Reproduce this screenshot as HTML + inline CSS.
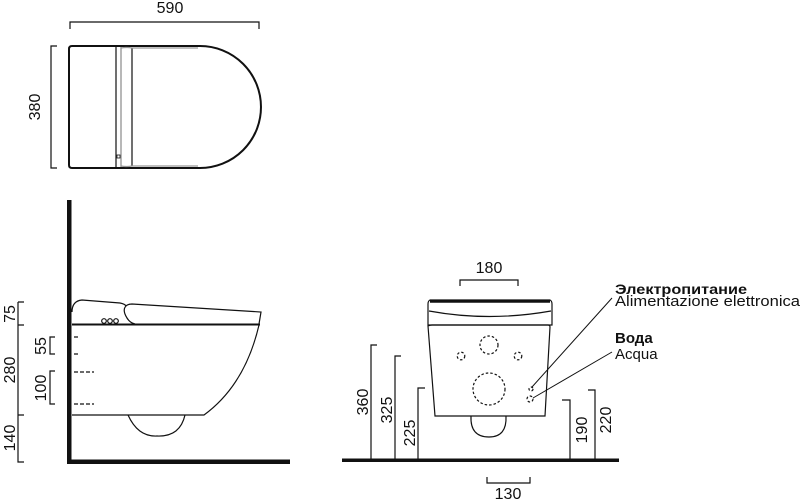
<!DOCTYPE html>
<html><head><meta charset="utf-8"><style>
html,body{margin:0;padding:0;background:#fff;}
svg{display:block;}
text{font-family:"Liberation Sans",sans-serif;fill:#111;}
</style></head><body>
<svg width="800" height="503" viewBox="0 0 800 503" xmlns="http://www.w3.org/2000/svg">
<g fill="none" stroke="#111" stroke-width="1.2">
<!-- TOP VIEW -->
<path d="M70 29 V22 H259 V29"/>
<path d="M57 46 H51 V168 H57"/>
<path d="M72 46 H200 A61 61 0 0 1 200 168 H72 Q69 168 69 165 V49 Q69 46 72 46 Z" stroke-width="2"/>
<line x1="116" y1="46" x2="116" y2="168"/>
<line x1="121" y1="47" x2="121" y2="167" stroke="#888"/>
<line x1="132" y1="48" x2="132" y2="166"/>
<path d="M121 48 Q126 47 132 48 M121 166 Q126 167 132 166 M132 48 H198 M132 166 H198" stroke="#999"/>
<rect x="117" y="155" width="3" height="3" stroke-width="0.8"/>

<!-- SIDE VIEW -->
<path d="M18 302 H24 M18 302 V462 H24 M18 325 H24 M18 415 H24"/>
<path d="M55 337 H50 V354 H55 M55 371 H50 V404 H55"/>
<path d="M74 337 H80 M74 354 H80 M74 372 H94 M74 404 H94" stroke-dasharray="4 2"/>
<path d="M72 312 Q72 301 82 300 L120 303 Q125 304 126 306 Q122 310 127 318 Q130 323 135 324 M126 306 Q128 304 132 304 L261 312 L259 324"/>
<line x1="72" y1="324.5" x2="260" y2="324.5" stroke-width="2"/>
<path d="M259 325 Q245 385 204 415 H72"/>
<path d="M128 415 Q138 437 157 436 Q180 437 185 415"/>
<circle cx="104" cy="321" r="2.3"/><circle cx="110" cy="321" r="2.3"/><circle cx="116" cy="321" r="2.3"/>

<!-- FRONT VIEW -->
<path d="M460 286 V280 H518 V286"/>
<path d="M487 477 V483 H530 V477"/>
<path d="M377 345 H371 V460 M401 356 H395 V460 M425 388 H418 V460 M562 400 H570 V460 M588 390 H595 V460"/>
<path d="M430 300 H550 Q552 301 552 304 V325 H428 V304 Q428 301 430 300 Z"/>
<line x1="430" y1="301.5" x2="550" y2="301.5" stroke-width="2.5"/>
<path d="M429 311 Q489 322 551 311"/>
<path d="M428 326 Q430 325 432 325 H548 Q550 325 550 327 L545 416 H435 Z"/>
<path d="M471 416 Q470 437 489 437 Q507 437 506 416"/>
<g stroke-dasharray="2.5 2">
<circle cx="489" cy="345" r="9"/>
<circle cx="461" cy="356" r="3.8"/>
<circle cx="518" cy="356" r="3.8"/>
<circle cx="489" cy="389" r="16"/>
<circle cx="531" cy="389" r="2"/>
<circle cx="530" cy="399" r="3"/>
</g>
<line x1="532" y1="387" x2="612" y2="298" stroke-width="1"/>
<line x1="533" y1="398" x2="612" y2="352" stroke-width="1"/>
</g>
<rect x="67" y="200" width="4.5" height="264" fill="#111"/>
<rect x="67" y="459.5" width="223" height="4.5" fill="#111"/>
<rect x="342" y="458.5" width="277" height="3.5" fill="#111"/>

<g font-size="16">
<text x="170" y="13" text-anchor="middle">590</text>
<text transform="translate(40 107) rotate(-90)" text-anchor="middle">380</text>
<text transform="translate(15 314) rotate(-90)" text-anchor="middle">75</text>
<text transform="translate(15 370) rotate(-90)" text-anchor="middle">280</text>
<text transform="translate(15 438) rotate(-90)" text-anchor="middle">140</text>
<text transform="translate(46 346) rotate(-90)" text-anchor="middle">55</text>
<text transform="translate(46 388) rotate(-90)" text-anchor="middle">100</text>
<text x="489" y="273" text-anchor="middle">180</text>
<text x="508" y="499" text-anchor="middle">130</text>
<text transform="translate(368 402) rotate(-90)" text-anchor="middle">360</text>
<text transform="translate(392 410) rotate(-90)" text-anchor="middle">325</text>
<text transform="translate(415 433) rotate(-90)" text-anchor="middle">225</text>
<text transform="translate(587 430) rotate(-90)" text-anchor="middle">190</text>
<text transform="translate(611 420) rotate(-90)" text-anchor="middle">220</text>
</g>
<g font-size="15">
<text x="615" y="294" font-weight="bold" font-size="14" textLength="132" lengthAdjust="spacingAndGlyphs">Электропитание</text>
<text x="615" y="306" textLength="185" lengthAdjust="spacingAndGlyphs">Alimentazione elettronica</text>
<text x="615" y="343" font-weight="bold">Вода</text>
<text x="615" y="359">Acqua</text>
</g>
</svg>
</body></html>
